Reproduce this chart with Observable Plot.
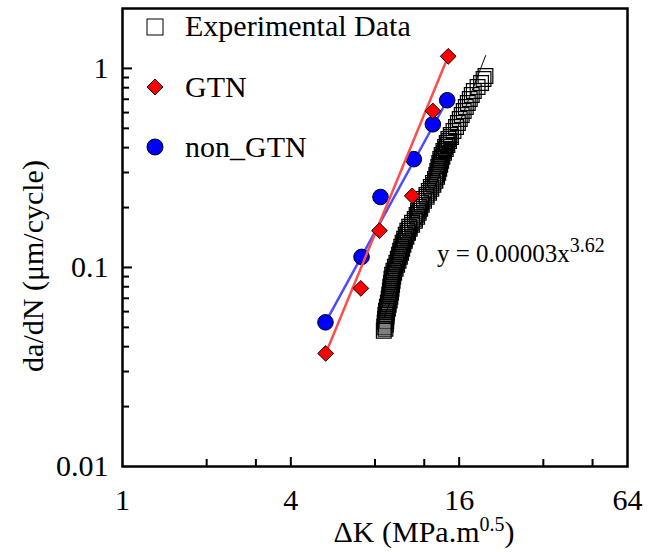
<!DOCTYPE html>
<html><head><meta charset="utf-8">
<script src="https://cdn.jsdelivr.net/npm/d3@7"></script>
<script src="https://cdn.jsdelivr.net/npm/@observablehq/plot@0.6"></script>
<style>body{margin:0;background:#fff;}</style>
</head><body><div id="chart"></div>
<script>
// Experimental data (ΔK, da/dN)
const expK = [8.60, 8.63, 8.66, 8.69, 8.71, 8.76, 8.82, 8.89, 8.95, 8.99, 9.04, 9.07, 9.12, 9.16, 9.21, 9.31, 9.42, 9.54, 9.65, 9.75, 9.84, 9.93, 10.04, 10.17, 10.30, 10.44, 10.60, 10.85, 11.10, 11.27, 11.40, 11.53, 11.70, 11.96, 12.22, 12.46, 12.67, 12.89, 13.11, 13.25, 13.36, 13.47, 13.58, 13.69, 13.85, 14.05, 14.25, 14.44, 14.64, 14.93, 15.27, 15.59, 15.83, 16.08, 16.34, 16.61, 16.90, 17.18, 17.46, 17.75, 18.05, 18.62, 19.16, 19.56, 19.87,
  8.72, 8.75, 8.78, 8.81, 8.84, 8.90, 8.96, 9.03, 9.08, 9.13, 9.17, 9.21, 9.25, 9.30, 9.37, 9.48, 9.60, 9.71, 9.82, 9.92, 10.01, 10.11, 10.23, 10.36, 10.50, 10.65, 10.86, 11.11, 11.32, 11.47, 11.61, 11.76, 11.98, 12.24, 12.49, 12.72, 12.94, 13.16, 13.34, 13.47, 13.58, 13.69, 13.80, 13.94, 14.12, 14.33, 14.52, 14.72, 14.97];
const expRate = [0.0481, 0.0504, 0.0528, 0.0553, 0.0579, 0.0606, 0.0635, 0.0665, 0.0696, 0.0729, 0.0764, 0.0800, 0.0837, 0.0877, 0.0919, 0.0962, 0.1008, 0.1056, 0.1106, 0.1158, 0.1213, 0.1270, 0.1330, 0.1393, 0.1459, 0.1528, 0.1600, 0.1676, 0.1755, 0.1838, 0.1925, 0.2016, 0.2112, 0.2212, 0.2316, 0.2426, 0.2541, 0.2661, 0.2787, 0.2918, 0.3056, 0.3201, 0.3352, 0.3511, 0.3677, 0.3850, 0.4033, 0.4223, 0.4423, 0.4632, 0.4851, 0.5081, 0.5321, 0.5572, 0.5836, 0.6112, 0.6401, 0.6704, 0.7021, 0.7354, 0.7701, 0.8066, 0.8448, 0.8848, 0.9160,
  0.0492, 0.0516, 0.0540, 0.0566, 0.0593, 0.0620, 0.0650, 0.0681, 0.0712, 0.0746, 0.0782, 0.0819, 0.0857, 0.0898, 0.0941, 0.0985, 0.1032, 0.1081, 0.1132, 0.1185, 0.1241, 0.1300, 0.1361, 0.1426, 0.1493, 0.1564, 0.1637, 0.1715, 0.1796, 0.1881, 0.1970, 0.2063, 0.2161, 0.2264, 0.2370, 0.2483, 0.2600, 0.2723, 0.2852, 0.2986, 0.3127, 0.3276, 0.3431, 0.3593, 0.3763, 0.3940, 0.4127, 0.4322, 0.4527];
// GTN simulation
const gtnK = [5.33, 7.12, 8.30, 10.87, 12.88, 14.62];
const gtnRate = [0.037, 0.0785, 0.153, 0.229, 0.611, 1.15];
// non_GTN simulation
const nonK = [5.32, 7.16, 8.37, 11.01, 12.88, 14.50];
const nonRate = [0.053, 0.113, 0.226, 0.350, 0.524, 0.692];
// fit lines (end points)
const gtnFitK = [5.33, 14.62];
const gtnFitRate = [0.037, 1.15];
const nonFitK = [5.32, 14.50];
const nonFitRate = [0.053, 0.692];
const expFitK = [8.6, 19.9];
const expFitRate = [0.0557, 1.16];
// ticks
const xTickLabels = [1, 4, 16, 64];
const xMajorTicks = [4, 16];
const xMinorTicks = [2, 3, 8, 12, 32, 48];
const yTickLabels = [0.01, 0.1, 1];
const yMajorTicks = [0.1, 1];
const yMinorTicks = [0.02, 0.03, 0.04, 0.05, 0.06, 0.07, 0.08, 0.09, 0.2, 0.3, 0.4, 0.5, 0.6, 0.7, 0.8, 0.9];

const W = 657, H = 552, mL = 122, mR = 30, mT = 8, mB = 86;
const pw = W - mL - mR, ph = H - mT - mB;
const zip = (xs, ys) => xs.map((x, i) => ({x, y: ys[i]}));
const expData = zip(expK, expRate);
const gtnData = zip(gtnK, gtnRate);
const nonData = zip(nonK, nonRate);
const font = "'Liberation Serif', 'Times New Roman', serif";

const svg = Plot.plot({
  width: W, height: H,
  marginLeft: mL, marginRight: mR, marginTop: mT, marginBottom: mB,
  style: {fontFamily: font, fontSize: "30px", background: "white", color: "black"},
  x: {type: "log", base: 2, domain: [1, 64]},
  y: {type: "log", domain: [0.01, 2]},
  marks: [
    Plot.tickX(xMinorTicks, {x: d => d, insetTop: ph - 7, stroke: "black", strokeWidth: 2}),
    Plot.tickX(xMajorTicks, {x: d => d, insetTop: ph - 9, stroke: "black", strokeWidth: 2}),
    Plot.tickY(yMinorTicks, {y: d => d, insetRight: pw - 7, stroke: "black", strokeWidth: 2}),
    Plot.tickY(yMajorTicks, {y: d => d, insetRight: pw - 10, stroke: "black", strokeWidth: 2}),
    Plot.axisX({ticks: xTickLabels, tickSize: 0, tickPadding: 22, tickFormat: d => String(d), label: null, fontSize: 30}),
    Plot.axisY({ticks: yTickLabels, tickSize: 0, tickPadding: 14, tickFormat: d => String(d), label: null, fontSize: 30}),
    Plot.line(zip(expFitK, expFitRate), {x: "x", y: "y", stroke: "black", strokeWidth: 1}),
    Plot.dot(expData, {x: "x", y: "y", symbol: "square", r: 8.3, stroke: "black", fill: "none", strokeWidth: 1.2}),
    Plot.line(zip(nonFitK, nonFitRate), {x: "x", y: "y", stroke: "#4d4dff", strokeWidth: 2.5}),
    Plot.dot(nonData, {x: "x", y: "y", symbol: "circle", r: 7.8, fill: "#0000ff", stroke: "black", strokeWidth: 1}),
    Plot.line(zip(gtnFitK, gtnFitRate), {x: "x", y: "y", stroke: "#ff4d4d", strokeWidth: 2.5}),
    Plot.dot(gtnData, {x: "x", y: "y", symbol: "diamond2", r: 7.1, fill: "#ff0000", stroke: "black", strokeWidth: 1}),
    Plot.frame({stroke: "black", strokeWidth: 2.5})
  ]
});
document.getElementById("chart").appendChild(svg);

const s = d3.select(svg);
// axis titles
s.append("text").attr("transform", "translate(32,266) rotate(-90)")
  .attr("text-anchor", "middle").attr("dominant-baseline", "central")
  .attr("font-family", font).attr("font-size", 30).attr("fill", "black")
  .text("da/dN (μm/cycle)");
const xt = s.append("text").attr("x", 424).attr("y", 542).attr("text-anchor", "middle")
  .attr("font-family", font).attr("font-size", 30).attr("fill", "black");
xt.append("tspan").text("ΔK (MPa.m");
xt.append("tspan").attr("font-size", 20).attr("dy", -11).text("0.5");
xt.append("tspan").attr("dy", 11).text(")");
// equation
const eq = s.append("text").attr("x", 437).attr("y", 262).attr("text-anchor", "start")
  .attr("font-family", font).attr("font-size", 25).attr("fill", "black");
eq.append("tspan").text("y = 0.00003x");
eq.append("tspan").attr("font-size", 20).attr("dy", -10).text("3.62");
// legend
const lg = s.append("g").attr("font-family", font).attr("font-size", 30).attr("fill", "black")
  .attr("text-anchor", "start");
lg.append("rect").attr("x", 147).attr("y", 19).attr("width", 16).attr("height", 16)
  .attr("fill", "white").attr("stroke", "black").attr("stroke-width", 1);
lg.append("text").attr("x", 185).attr("y", 36).text("Experimental Data");
lg.append("path").attr("d", "M155,79L163,87L155,95L147,87Z")
  .attr("fill", "#ff0000").attr("stroke", "black").attr("stroke-width", 1);
lg.append("text").attr("x", 185).attr("y", 97).text("GTN");
lg.append("circle").attr("cx", 155).attr("cy", 147).attr("r", 8)
  .attr("fill", "#0000ff").attr("stroke", "black").attr("stroke-width", 1);
lg.append("text").attr("x", 185).attr("y", 157).text("non_GTN");
</script>
</body></html>
